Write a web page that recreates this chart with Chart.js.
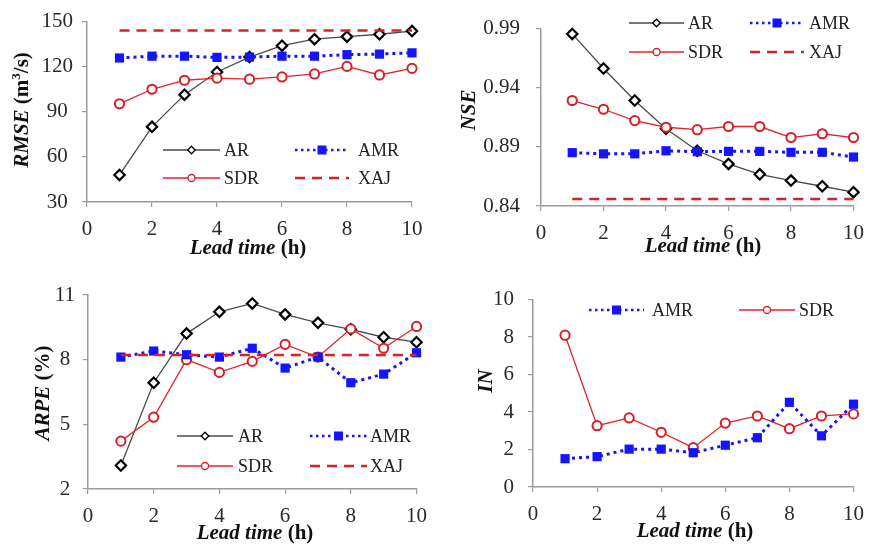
<!DOCTYPE html>
<html>
<head>
<meta charset="utf-8">
<script src="https://cdn.jsdelivr.net/npm/chart.js@4/dist/chart.umd.min.js"></script>
<style>
  body { margin: 0; background: #fff; }
  #wrap { position: relative; width: 874px; height: 546px; }
  .panel { position: absolute; width: 437px; height: 273px; }
</style>
</head>
<body>
<div id="wrap">
  <div class="panel" style="left:0;top:0"><canvas id="c1" width="437" height="273"></canvas></div>
  <div class="panel" style="left:437px;top:0"><canvas id="c2" width="437" height="273"></canvas></div>
  <div class="panel" style="left:0;top:273px"><canvas id="c3" width="437" height="273"></canvas></div>
  <div class="panel" style="left:437px;top:273px"><canvas id="c4" width="437" height="273"></canvas></div>
</div>
<script>
// dados
const leadTime = [1, 2, 3, 4, 5, 6, 7, 8, 9, 10];

const rmseAR  = [48, 80, 101.4, 116.5, 126.4, 134, 138.3, 140, 141.6, 143.7];
const rmseAMR = [125.8, 127, 127, 126.2, 126.4, 127, 127, 128, 128.4, 129.2];
const rmseSDR = [95.3, 105, 111, 112.4, 111.7, 113.2, 115.2, 120.2, 114.5, 118.9];
const rmseXAJ = [144, 144, 144, 144, 144, 144, 144, 144, 144, 144];

const nseAR  = [0.9855, 0.9563, 0.9292, 0.9053, 0.8867, 0.8756, 0.8668, 0.8615, 0.8567, 0.8517];
const nseAMR = [0.8851, 0.8841, 0.8841, 0.8867, 0.8859, 0.8862, 0.8862, 0.8854, 0.8854, 0.8814];
const nseSDR = [0.9292, 0.9218, 0.9122, 0.9066, 0.9045, 0.9072, 0.9072, 0.8979, 0.9011, 0.8979];
const nseXAJ = [0.846, 0.846, 0.846, 0.846, 0.846, 0.846, 0.846, 0.846, 0.846, 0.846];

const arpeAR  = [3.09, 6.93, 9.21, 10.22, 10.61, 10.1, 9.71, 9.41, 9.04, 8.81];
const arpeAMR = [8.12, 8.4, 8.23, 8.12, 8.53, 7.61, 8.12, 6.93, 7.33, 8.32];
const arpeSDR = [4.22, 5.33, 8.0, 7.41, 7.92, 8.71, 8.12, 9.43, 8.53, 9.54];
const arpeXAJ = [8.22, 8.22, 8.22, 8.22, 8.22, 8.22, 8.22, 8.22, 8.22, 8.22];

const inAMR = [1.51, 1.62, 2.02, 2.02, 1.83, 2.23, 2.63, 4.52, 2.73, 4.42];
const inSDR = [8.1, 3.27, 3.69, 2.92, 2.1, 3.41, 3.79, 3.11, 3.79, 3.9];

const FONT = '"Liberation Serif", "Times New Roman", serif';

// estilo de cada série
const estilos = {
  AR:  { line: '#4a4a4a', width: 1.3, dash: [], point: 'rectRot', radius: 5.2, border: '#000', bw: 2.2, fill: '#fff' },
  SDR: { line: '#e0262b', width: 1.3, dash: [], point: 'circle', radius: 4.6, border: '#d81e24', bw: 2, fill: '#fff' },
  AMR: { line: '#1414ff', width: 3, dash: [3, 4], point: 'rect', radius: 6.5, border: '#1414ff', bw: 0, fill: '#1414ff' },
  XAJ: { line: '#d8222a', width: 2.5, dash: [10, 7], point: false }
};

function serie(nome, valores) {
  const e = estilos[nome];
  return {
    label: nome,
    data: leadTime.map((x, i) => ({ x: x, y: valores[i] })),
    borderColor: e.line,
    borderWidth: e.width,
    borderDash: e.dash,
    pointStyle: e.point,
    pointRadius: e.point ? e.radius : 0,
    pointBorderColor: e.border,
    pointBorderWidth: e.bw,
    pointBackgroundColor: e.fill,
    tension: 0,
    clip: false
  };
}

// marcador da legenda
function marcador(ctx, e, x, y) {
  if (!e.point) return;
  ctx.save();
  ctx.setLineDash([]);
  ctx.fillStyle = e.fill;
  ctx.strokeStyle = e.border;
  ctx.lineWidth = 1.3;
  ctx.beginPath();
  if (e.point === 'rectRot') {
    const r = 3.8;
    ctx.moveTo(x, y - r); ctx.lineTo(x + r, y); ctx.lineTo(x, y + r); ctx.lineTo(x - r, y); ctx.closePath();
    ctx.fill(); ctx.stroke();
  } else if (e.point === 'circle') {
    ctx.arc(x, y, 3.5, 0, Math.PI * 2);
    ctx.fill(); ctx.stroke();
  } else {
    ctx.rect(x - 4.5, y - 4.5, 9, 9);
    ctx.fill();
  }
  ctx.restore();
}

// texto com partes em estilos diferentes
function textoRico(ctx, partes, cx, cy, rot) {
  ctx.save();
  ctx.translate(cx, cy);
  if (rot) ctx.rotate(-Math.PI / 2);
  let total = 0;
  partes.forEach(p => { ctx.font = p.font; total += ctx.measureText(p.t).width; });
  let x = -total / 2;
  ctx.fillStyle = '#111';
  ctx.textBaseline = 'middle';
  partes.forEach(p => {
    ctx.font = p.font;
    ctx.fillText(p.t, x, p.dy || 0);
    x += ctx.measureText(p.t).width;
  });
  ctx.restore();
}

const BI = 'bold italic 21px ' + FONT;
const B = 'bold 21px ' + FONT;
const tituloX = [{ t: 'Lead time', font: BI }, { t: ' (h)', font: B }];

const pluginExtras = {
  id: 'extras',
  afterDraw(chart) {
    const o = chart.options.plugins.extras;
    const ctx = chart.ctx;
    textoRico(ctx, tituloX, o.xt[0], o.xt[1], false);
    textoRico(ctx, o.yTitle, o.yt[0], o.yt[1], true);
    // legenda manual em colunas
    o.legenda.forEach(l => {
      const e = estilos[l.nome];
      ctx.save();
      ctx.strokeStyle = e.line;
      ctx.lineWidth = l.nome === 'AMR' ? 2.5 : e.width;
      ctx.setLineDash(l.nome === 'AMR' ? [2.5, 3.5] : e.dash);
      ctx.beginPath();
      ctx.moveTo(l.x0, l.y); ctx.lineTo(l.x1, l.y);
      ctx.stroke();
      ctx.restore();
      marcador(ctx, e, (l.x0 + l.x1) / 2, l.y);
      ctx.save();
      ctx.font = '18px ' + FONT;
      ctx.fillStyle = '#222';
      ctx.textBaseline = 'middle';
      ctx.fillText(l.nome, l.tx, l.y + 1);
      ctx.restore();
    });
  }
};

function eixo(min, max, step, casas, pad, alinhar) {
  return {
    type: 'linear', min: min, max: max,
    ticks: {
      stepSize: step, color: '#2a2a2a', padding: pad, crossAlign: alinhar || 'near',
      font: { family: FONT, size: 21 },
      callback: v => Number(v).toFixed(casas)
    },
    grid: { drawOnChartArea: false, drawTicks: true, tickLength: 5, color: '#9a9a9a', lineWidth: 1.2 },
    border: { display: true, color: '#9a9a9a', width: 1.5 }
  };
}

function criarGrafico(id, series, area, yEixo, extras) {
  const ctx = document.getElementById(id).getContext('2d');
  const xs = eixo(0, 10, 2, 0, 10);
  xs.afterFit = s => { s.height = 273 - area.bottom; };
  yEixo.afterFit = s => { s.width = area.left; };
  return new Chart(ctx, {
    type: 'line',
    data: { datasets: series },
    options: {
      responsive: false,
      animation: false,
      layout: { padding: { left: 0, top: area.top, right: 437 - area.right, bottom: 0 } },
      scales: { x: xs, y: yEixo },
      plugins: { legend: { display: false }, tooltip: { enabled: false }, extras: extras }
    },
    plugins: [pluginExtras]
  });
}

// RMSE
criarGrafico('c1',
  [serie('XAJ', rmseXAJ), serie('AMR', rmseAMR), serie('SDR', rmseSDR), serie('AR', rmseAR)],
  { left: 87, right: 412, top: 17, bottom: 202 },
  eixo(30, 150, 30, 0, 9, 'center'),
  {
    xt: [248, 249], yt: [23, 110],
    yTitle: [{ t: 'RMSE', font: BI }, { t: ' (m', font: B }, { t: '3', font: 'bold 13px ' + FONT, dy: -6 }, { t: '/s)', font: B }],
    legenda: [
      { nome: 'AR', x0: 163, x1: 220, tx: 224, y: 150 },
      { nome: 'AMR', x0: 295, x1: 349, tx: 358, y: 150 },
      { nome: 'SDR', x0: 163, x1: 220, tx: 224, y: 178 },
      { nome: 'XAJ', x0: 295, x1: 349, tx: 358, y: 178 }
    ]
  });

// NSE
criarGrafico('c2',
  [serie('XAJ', nseXAJ), serie('AMR', nseAMR), serie('SDR', nseSDR), serie('AR', nseAR)],
  { left: 104, right: 427, top: 17, bottom: 206 },
  eixo(0.84, 0.99, 0.05, 2, 16),
  {
    xt: [266, 247], yt: [33, 110],
    yTitle: [{ t: 'NSE', font: BI }],
    legenda: [
      { nome: 'AR', x0: 192, x1: 247, tx: 251, y: 23 },
      { nome: 'AMR', x0: 313, x1: 367, tx: 372, y: 23 },
      { nome: 'SDR', x0: 192, x1: 247, tx: 251, y: 52 },
      { nome: 'XAJ', x0: 313, x1: 367, tx: 372, y: 52 }
    ]
  });

// ARPE
criarGrafico('c3',
  [serie('XAJ', arpeXAJ), serie('AMR', arpeAMR), serie('SDR', arpeSDR), serie('AR', arpeAR)],
  { left: 88, right: 422, top: 22, bottom: 216 },
  eixo(2, 11, 3, 0, 8, 'center'),
  {
    xt: [255, 261], yt: [44, 120],
    yTitle: [{ t: 'ARPE', font: BI }, { t: ' (%)', font: B }],
    legenda: [
      { nome: 'AR', x0: 177, x1: 233, tx: 238, y: 163 },
      { nome: 'AMR', x0: 310, x1: 367, tx: 370, y: 163 },
      { nome: 'SDR', x0: 177, x1: 233, tx: 238, y: 193 },
      { nome: 'XAJ', x0: 310, x1: 367, tx: 370, y: 193 }
    ]
  });

// IN
criarGrafico('c4',
  [serie('AMR', inAMR), serie('SDR', inSDR)],
  { left: 96, right: 420, top: 21, bottom: 214 },
  eixo(0, 10, 2, 0, 14),
  {
    xt: [258, 259], yt: [50, 108],
    yTitle: [{ t: 'IN', font: BI }],
    legenda: [
      { nome: 'AMR', x0: 152, x1: 207, tx: 215, y: 37 },
      { nome: 'SDR', x0: 302, x1: 358, tx: 362, y: 37 }
    ]
  });
</script>
</body>
</html>
